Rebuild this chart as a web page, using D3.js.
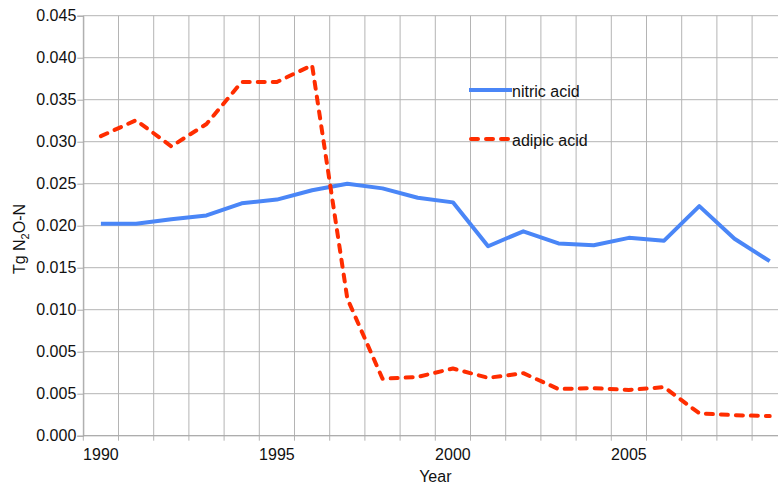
<!DOCTYPE html>
<meta charset="utf-8">
<style>

body {
  margin: 0;
  overflow: hidden;
  background: #fff;
}

svg text {
  font-family: "Liberation Sans", Arial, sans-serif;
  font-size: 16px;
  fill: #111;
}

.grid line {
  stroke: #b4b4b4;
  stroke-width: 1px;
}

.series {
  fill: none;
  stroke-linejoin: round;
}

</style>
<body>
<div id="chart"></div>
<script src="https://cdn.jsdelivr.net/npm/d3@7"></script>
<script>

// data
var years = [1990, 1991, 1992, 1993, 1994, 1995, 1996, 1997, 1998, 1999,
             2000, 2001, 2002, 2003, 2004, 2005, 2006, 2007, 2008, 2009];

var nitricAcid = [0.0227, 0.0227, 0.0232, 0.0236, 0.0249, 0.0253, 0.0263, 0.0270, 0.0265, 0.0255,
                  0.0250, 0.0203, 0.0219, 0.0206, 0.0204, 0.0212, 0.0209, 0.0246, 0.0211, 0.0187];

var adipicAcid = [0.0321, 0.0338, 0.0310, 0.0334, 0.0379, 0.0379, 0.0397, 0.0147, 0.0061, 0.0063,
                  0.0072, 0.0062, 0.0067, 0.0050, 0.0051, 0.0049, 0.0052, 0.0024, 0.0022, 0.0021];

var yTickLabels = ["0.000", "0.005", "0.005", "0.010", "0.015", "0.020",
                   "0.025", "0.030", "0.035", "0.040", "0.045"];
var xTickLabels = ["1990", "1995", "2000", "2005"];

var seriesNames = ["nitric acid", "adipic acid"];

var width = 778, height = 488;
var margin = {left: 83.3, top: 15.7, bottom: 52.3};
var plotRight = 787.3; // plot runs a bit past the right edge

var svg = d3.select("#chart").append("svg")
    .attr("width", width)
    .attr("height", height);

var x = d3.scaleBand()
    .domain(years)
    .range([margin.left, plotRight]);

var yMax = 0.045;
var y = d3.scaleLinear()
    .domain([0, yMax])
    .range([height - margin.bottom, margin.top]);

var yTicks = yTickLabels.map((d, i) => i * yMax / (yTickLabels.length - 1));
var bottom = y(0);

// grid
var grid = svg.append("g").attr("class", "grid");

grid.selectAll("line.h").data(yTicks).enter().append("line")
    .attr("class", "h")
    .attr("x1", margin.left).attr("x2", plotRight)
    .attr("y1", (d) => y(d)).attr("y2", (d) => y(d));

grid.selectAll("line.v").data(years).enter().append("line")
    .attr("class", "v")
    .attr("x1", (d) => x(d)).attr("x2", (d) => x(d))
    .attr("y1", margin.top).attr("y2", bottom + 5);

// y axis
var yAxis = d3.axisLeft(y)
    .tickValues(yTicks)
    .tickSize(6)
    .tickPadding(1)
    .tickFormat((d, i) => yTickLabels[i]);

var gy = svg.append("g")
    .attr("transform", `translate(${margin.left},0)`)
    .call(yAxis);
gy.select(".domain").attr("stroke", "#a8a8a8");
gy.selectAll(".tick line").attr("stroke", "#a8a8a8");
gy.selectAll(".tick text").attr("font-size", null).attr("font-family", null);

// x axis line and labels
svg.append("line")
    .attr("x1", margin.left).attr("x2", plotRight)
    .attr("y1", bottom).attr("y2", bottom)
    .attr("stroke", "#a8a8a8");

svg.selectAll("text.xlab").data(xTickLabels).enter().append("text")
    .attr("class", "xlab")
    .attr("x", (d) => x(+d) + x.bandwidth() / 2)
    .attr("y", 460)
    .attr("text-anchor", "middle")
    .text((d) => d);

svg.append("text")
    .attr("x", (margin.left + plotRight) / 2)
    .attr("y", 482)
    .attr("text-anchor", "middle")
    .text("Year");

var ytitle = svg.append("text")
    .attr("transform", "translate(25,239) rotate(-90)")
    .attr("text-anchor", "middle");
ytitle.append("tspan").text("Tg N");
ytitle.append("tspan").attr("font-size", "11px").attr("dy", 4).text("2");
ytitle.append("tspan").attr("dy", -4).text("O-N");

// lines
var line = d3.line()
    .x((d, i) => x(years[i]) + x.bandwidth() / 2)
    .y((d) => y(d));

var styles = [
    {color: "#4a86f7", width: 4, dash: null},
    {color: "#ff2d00", width: 4, dash: "7,8"}
];

[nitricAcid, adipicAcid].forEach(function(values, k) {
    svg.append("path")
        .datum(values)
        .attr("class", "series")
        .attr("d", line)
        .attr("stroke", styles[k].color)
        .attr("stroke-width", styles[k].width)
        .attr("stroke-linecap", styles[k].dash ? "round" : "butt")
        .attr("stroke-dasharray", styles[k].dash);
});

// legend
var legend = svg.selectAll("g.legend").data(seriesNames).enter().append("g")
    .attr("class", "legend")
    .attr("transform", (d, i) => `translate(469,${90 + i * 49})`);

legend.append("line")
    .attr("x1", (d, i) => styles[i].dash ? 2 : 0)
    .attr("x2", 43)
    .attr("stroke", (d, i) => styles[i].color)
    .attr("stroke-width", (d, i) => styles[i].width)
    .attr("stroke-linecap", (d, i) => styles[i].dash ? "round" : "butt")
    .attr("stroke-dasharray", (d, i) => styles[i].dash);

legend.append("text")
    .attr("x", 43)
    .attr("y", 7)
    .text((d) => d);

</script>
